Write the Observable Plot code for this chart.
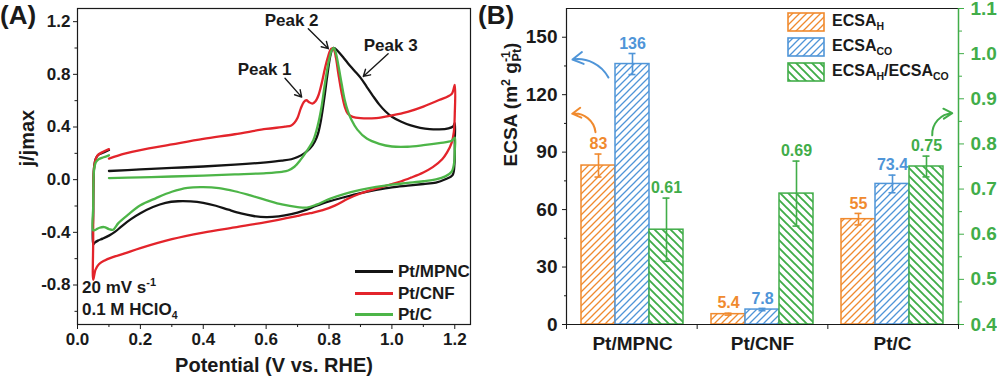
<!DOCTYPE html>
<html><head><meta charset="utf-8">
<script src="https://cdn.jsdelivr.net/npm/d3@7"></script>
<script src="https://cdn.jsdelivr.net/npm/@observablehq/plot@0.6"></script>
<style>
body{margin:0;background:#fff;}
#wrap{position:relative;width:997px;height:376px;overflow:hidden;font-family:"Liberation Sans",Arial,sans-serif;font-weight:bold;color:#1a1a1a;}
.abs{position:absolute;white-space:nowrap;}
#wrap sub{font-size:10.5px;vertical-align:-4px;line-height:0;}
#wrap sup{font-size:11px;vertical-align:7px;line-height:0;}
</style></head><body>
<svg width="0" height="0" style="position:absolute">
<defs>
<pattern id="hatchH" patternUnits="userSpaceOnUse" width="7" height="7"><rect width="7" height="7" fill="#fff"/><path d="M-1,1 L1,-1 M0,7 L7,0 M6,8 L8,6" stroke="#F08A2E" stroke-width="1.3"/></pattern>
<pattern id="hatchCO" patternUnits="userSpaceOnUse" width="7" height="7"><rect width="7" height="7" fill="#fff"/><path d="M-1,1 L1,-1 M0,7 L7,0 M6,8 L8,6" stroke="#4F95D8" stroke-width="1.3"/></pattern>
<pattern id="hatchR" patternUnits="userSpaceOnUse" width="8" height="8"><rect width="8" height="8" fill="#fff"/><path d="M0,0 L8,8 M-1,7 L1,9 M7,-1 L9,1" stroke="#41AD49" stroke-width="1.9"/></pattern>
</defs></svg>
<div id="wrap"></div>
<script>
const FONT = '"Liberation Sans", Arial, sans-serif';
const INK = "#1a1a1a";
const C_BLACK = "#141414", C_RED = "#E3242B", C_GREEN = "#4DB548";
const C_OR = "#F08A2E", C_BL = "#4F95D8", C_GR = "#41AD49";

// ---------- Panel A data (potential V vs RHE, normalized current j/jmax) ----------
const cvSeries = ["Pt/MPNC", "Pt/CNF", "Pt/C"];
const cvMPNC = [
  [0.10,0.066],[0.20,0.078],[0.30,0.089],[0.40,0.100],[0.50,0.114],[0.60,0.132],[0.65,0.144],[0.68,0.155],[0.70,0.172],[0.72,0.198],[0.74,0.238],[0.755,0.29],[0.765,0.35],[0.775,0.46],[0.785,0.62],[0.795,0.80],[0.805,0.95],[0.813,1.0],[0.82,0.995],[0.83,0.972],[0.845,0.93],[0.86,0.885],[0.88,0.83],[0.90,0.775],[0.92,0.705],[0.94,0.635],[0.96,0.57],[0.98,0.518],[1.00,0.478],[1.03,0.44],[1.06,0.412],[1.09,0.394],[1.12,0.384],[1.15,0.382],[1.18,0.39],[1.195,0.405],[1.2,0.43],
  [1.2,0.3],[1.199,0.12],[1.193,0.035],[1.17,0.003],[1.14,-0.022],[1.10,-0.033],[1.05,-0.045],[1.00,-0.058],[0.95,-0.078],[0.90,-0.102],[0.85,-0.132],[0.80,-0.165],[0.76,-0.198],[0.72,-0.235],[0.68,-0.262],[0.64,-0.279],[0.60,-0.285],[0.56,-0.276],[0.52,-0.256],[0.48,-0.228],[0.44,-0.198],[0.40,-0.176],[0.36,-0.165],[0.32,-0.164],[0.28,-0.176],[0.24,-0.208],[0.20,-0.255],[0.17,-0.30],[0.14,-0.355],[0.12,-0.395],[0.10,-0.425],[0.08,-0.448],[0.065,-0.463],[0.055,-0.478],[0.05,-0.49],
  [0.05,-0.25],[0.051,0.0],[0.053,0.1],[0.058,0.16],[0.067,0.19],[0.083,0.207],[0.10,0.225]
];
const cvCNF = [
  [0.10,0.16],[0.15,0.197],[0.20,0.225],[0.30,0.268],[0.40,0.31],[0.50,0.345],[0.60,0.385],[0.66,0.402],[0.68,0.412],[0.69,0.432],[0.70,0.47],[0.71,0.54],[0.72,0.59],[0.728,0.603],[0.737,0.588],[0.747,0.578],[0.757,0.595],[0.767,0.645],[0.777,0.735],[0.787,0.845],[0.797,0.935],[0.807,0.995],[0.815,0.99],[0.822,0.925],[0.83,0.80],[0.84,0.66],[0.85,0.555],[0.86,0.50],[0.875,0.477],[0.90,0.467],[0.95,0.468],[1.00,0.488],[1.05,0.515],[1.10,0.555],[1.15,0.605],[1.19,0.65],[1.2,0.72],
  [1.2,0.5],[1.197,0.36],[1.19,0.28],[1.175,0.205],[1.16,0.155],[1.13,0.095],[1.10,0.055],[1.06,0.015],[1.03,-0.012],[1.00,-0.033],[0.95,-0.068],[0.90,-0.105],[0.86,-0.145],[0.82,-0.195],[0.78,-0.232],[0.74,-0.255],[0.70,-0.275],[0.60,-0.322],[0.50,-0.362],[0.40,-0.402],[0.30,-0.452],[0.20,-0.52],[0.15,-0.56],[0.11,-0.59],[0.085,-0.615],[0.068,-0.642],[0.057,-0.685],[0.05,-0.76],
  [0.05,-0.45],[0.05,-0.1],[0.052,0.07],[0.056,0.14],[0.064,0.185],[0.08,0.21],[0.10,0.232]
];
const cvPC = [
  [0.10,0.012],[0.20,0.018],[0.30,0.024],[0.40,0.031],[0.50,0.04],[0.60,0.05],[0.65,0.06],[0.67,0.07],[0.69,0.098],[0.71,0.152],[0.73,0.22],[0.75,0.30],[0.765,0.42],[0.776,0.55],[0.787,0.73],[0.80,0.91],[0.809,0.985],[0.815,1.0],[0.822,0.96],[0.83,0.865],[0.84,0.73],[0.85,0.605],[0.86,0.52],[0.87,0.46],[0.89,0.38],[0.92,0.312],[0.96,0.272],[1.00,0.252],[1.05,0.25],[1.10,0.262],[1.15,0.278],[1.19,0.295],[1.2,0.32],
  [1.2,0.22],[1.198,0.13],[1.19,0.06],[1.17,0.025],[1.14,0.002],[1.10,-0.012],[1.05,-0.025],[1.00,-0.038],[0.95,-0.055],[0.90,-0.078],[0.85,-0.108],[0.80,-0.148],[0.76,-0.19],[0.73,-0.212],[0.70,-0.208],[0.65,-0.188],[0.60,-0.155],[0.55,-0.12],[0.50,-0.088],[0.45,-0.065],[0.40,-0.057],[0.35,-0.062],[0.30,-0.092],[0.25,-0.14],[0.20,-0.195],[0.16,-0.268],[0.13,-0.33],[0.113,-0.38],[0.10,-0.375],[0.085,-0.36],[0.07,-0.365],[0.058,-0.38],[0.05,-0.385],
  [0.05,-0.2],[0.051,0.0],[0.053,0.08],[0.058,0.13],[0.067,0.155],[0.083,0.17],[0.10,0.185]
];
const xTicksA = [0, 0.2, 0.4, 0.6, 0.8, 1.0, 1.2];
const xMinorA = [0.1, 0.3, 0.5, 0.7, 0.9, 1.1];
const yTicksA = [-0.8, -0.4, 0, 0.4, 0.8, 1.2];
const yMinorA = [-1.0, -0.6, -0.2, 0.2, 0.6, 1.0];
const xTitleA = "Potential (V vs. RHE)";
const yTitleA = "j/jmax";
const peakNames = ["Peak 1", "Peak 2", "Peak 3"];
const peakTextV = [0.595, 0.681, 0.996];
const peakTextJ = [0.834, 1.21, 1.018];
const peakArrowV1 = [0.660, 0.734, 0.988], peakArrowJ1 = [0.77, 1.147, 0.957];
const peakArrowV2 = [0.713, 0.798, 0.909], peakArrowJ2 = [0.627, 0.995, 0.784];
const conditionLines = ["20 mV s<sup>-1</sup>", "0.1 M HClO<sub>4</sub>"];

// ---------- Panel B data ----------
const catalysts = ["Pt/MPNC", "Pt/CNF", "Pt/C"];
const ecsaH = [83, 5.4, 55], ecsaHErr = [6, 0.5, 3], ecsaHText = ["83", "5.4", "55"];
const ecsaCO = [136, 7.8, 73.4], ecsaCOErr = [5.5, 0.6, 4.6], ecsaCOText = ["136", "7.8", "73.4"];
const ratio = [0.61, 0.69, 0.75], ratioErr = [0.07, 0.072, 0.023], ratioText = ["0.61", "0.69", "0.75"];
const leftTicksB = [0, 30, 60, 90, 120, 150], leftMinorB = [15, 45, 75, 105, 135];
const rightTicksB = [0.4, 0.5, 0.6, 0.7, 0.8, 0.9, 1.0, 1.1], rightMinorB = [0.45, 0.55, 0.65, 0.75, 0.85, 0.95, 1.05];
const yTitleB = "ECSA (m2 gPt-1)";
const legendBLabels = ["ECSA<sub>H</sub>", "ECSA<sub>CO</sub>", "ECSA<sub>H</sub>/ECSA<sub>CO</sub>"];
// annotation arrows (x in catalyst-slot units 0..3, y in ratio units)
const arrowsB = [
  {x1: 0.321, y1: 0.947, x2: 0.046, y2: 0.987},
  {x1: 0.222, y1: 0.826, x2: 0.044, y2: 0.867},
  {x1: 2.799, y1: 0.819, x2: 2.952, y2: 0.868}
];

const wrap = document.getElementById("wrap");
const rows = arr => arr.map(([v, j]) => ({v, j}));

// ---------- Panel A ----------
const peakText = peakNames.map((t, i) => ({t, v: peakTextV[i], j: peakTextJ[i]}));
const peakArrows = peakNames.map((t, i) => ({x1: peakArrowV1[i], y1: peakArrowJ1[i], x2: peakArrowV2[i], y2: peakArrowJ2[i]}));
const pa = Plot.plot({
  width: 480, height: 376,
  marginLeft: 77, marginRight: 10, marginTop: 8, marginBottom: 52,
  style: {fontFamily: FONT, fontSize: "17px", fontWeight: "bold", color: INK, background: "transparent", overflow: "visible"},
  x: {domain: [0, 1.25]},
  y: {domain: [-1.1, 1.3]},
  marks: [
    Plot.axisX({ticks: xTicksA, tickFormat: d => d.toFixed(1), tickSize: 5, tickPadding: 3, label: null}),
    Plot.axisX({ticks: xMinorA, tickFormat: () => "", tickSize: 3, label: null}),
    Plot.axisY({ticks: yTicksA, tickFormat: d => d.toFixed(1), tickSize: 4, tickPadding: 3, label: null}),
    Plot.axisY({ticks: yMinorA, tickFormat: () => "", tickSize: 2.5, label: null}),
    Plot.line(rows(cvMPNC), {x: "v", y: "j", stroke: C_BLACK, strokeWidth: 2.3, curve: "catmull-rom"}),
    Plot.line(rows(cvCNF), {x: "v", y: "j", stroke: C_RED, strokeWidth: 2.3, curve: "catmull-rom"}),
    Plot.line(rows(cvPC), {x: "v", y: "j", stroke: C_GREEN, strokeWidth: 2.3, curve: "catmull-rom"}),
    Plot.frame({stroke: INK, strokeWidth: 1.2}),
    Plot.arrow(peakArrows, {x1: "x1", y1: "y1", x2: "x2", y2: "y2", stroke: INK, strokeWidth: 1.4, headLength: 8}),
    Plot.text(peakText, {x: "v", y: "j", text: "t", fontSize: 17}),
    Plot.text([xTitleA], {frameAnchor: "bottom", dy: 41, fontSize: 20, lineAnchor: "middle"}),
    Plot.text([yTitleA], {frameAnchor: "left", dx: -50, rotate: -90, fontSize: 20, lineAnchor: "middle"})
  ]
});
pa.style.position = "absolute"; pa.style.left = "0px"; pa.style.top = "0px";
wrap.appendChild(pa);

// ---------- Panel B ----------
const toLeft = d3.scaleLinear().domain([0.4, 1.1]).range([0, 165]);
const seriesKeys = ["H", "CO", "R"];
const seriesStyle = {
  H: {fill: "url(#hatchH)", color: C_OR},
  CO: {fill: "url(#hatchCO)", color: C_BL},
  R: {fill: "url(#hatchR)", color: C_GR}
};
const barRows = [];
catalysts.forEach((c, i) => {
  barRows.push({cat: c, s: "H", top: ecsaH[i], lo: ecsaH[i] - ecsaHErr[i], hi: ecsaH[i] + ecsaHErr[i], label: ecsaHText[i]});
  barRows.push({cat: c, s: "CO", top: ecsaCO[i], lo: ecsaCO[i] - ecsaCOErr[i], hi: ecsaCO[i] + ecsaCOErr[i], label: ecsaCOText[i]});
  barRows.push({cat: c, s: "R", top: toLeft(ratio[i]), lo: toLeft(ratio[i] - ratioErr[i]), hi: toLeft(ratio[i] + ratioErr[i]), label: ratioText[i]});
});
const barMarks = seriesKeys.flatMap(k => {
  const st = seriesStyle[k];
  const data = barRows.filter(d => d.s === k);
  return [
    Plot.barY(data, {fx: "cat", x: "s", y: "top", fill: st.fill, stroke: st.color, strokeWidth: 1.5}),
    Plot.ruleX(data, {fx: "cat", x: "s", y1: "lo", y2: "hi", stroke: st.color, strokeWidth: 1.6}),
    Plot.tickY(data, {fx: "cat", x: "s", y: "hi", stroke: st.color, strokeWidth: 1.6, insetLeft: 13.5, insetRight: 13.5}),
    Plot.tickY(data, {fx: "cat", x: "s", y: "lo", stroke: st.color, strokeWidth: 1.6, insetLeft: 13.5, insetRight: 13.5}),
    Plot.text(data, {fx: "cat", x: "s", y: "hi", text: "label", dy: -10, fill: st.color, fontSize: 16})
  ];
});
const pb = Plot.plot({
  width: 517, height: 376,
  marginLeft: 86, marginRight: 39, marginTop: 8, marginBottom: 52,
  style: {fontFamily: FONT, fontSize: "19px", fontWeight: "bold", color: INK, background: "transparent", overflow: "visible"},
  fx: {domain: catalysts, padding: 0, label: null},
  x: {domain: seriesKeys, paddingInner: 0, paddingOuter: 0.4, axis: null},
  y: {domain: [0, 165]},
  marks: [
    Plot.axisFx({anchor: "bottom", tickSize: 0, tickPadding: 12, label: null}),
    Plot.axisY({ticks: leftTicksB, tickSize: 5, tickPadding: 5, label: null}),
    Plot.axisY({ticks: leftMinorB, tickFormat: () => "", tickSize: 3, label: null}),
    ...barMarks
  ]
});
pb.style.position = "absolute"; pb.style.left = "480px"; pb.style.top = "0px";
wrap.appendChild(pb);

const arrowBColors = [C_BL, C_OR, C_GR];
const arrowBBends = [-35, -45, 45];
const pbo = Plot.plot({
  width: 517, height: 376,
  marginLeft: 86, marginRight: 39, marginTop: 8, marginBottom: 52,
  style: {fontFamily: FONT, fontSize: "19px", fontWeight: "bold", color: INK, background: "transparent", overflow: "visible"},
  x: {domain: [0, 3]},
  y: {domain: [0.4, 1.1]},
  marks: [
    Plot.ruleY([1.1], {stroke: INK, strokeWidth: 1.2}),
    Plot.ruleY([0.4], {stroke: INK, strokeWidth: 1.2}),
    Plot.ruleX([0], {stroke: INK, strokeWidth: 1.2}),
    Plot.ruleX([3], {stroke: C_GR, strokeWidth: 1.5}),
    Plot.axisX({ticks: [0, 1, 2, 3], tickFormat: () => "", tickSize: 5, label: null}),
    Plot.axisY({anchor: "right", ticks: rightTicksB, tickFormat: d => d.toFixed(1), tickSize: 5, tickPadding: 7, color: C_GR, stroke: C_GR, fill: C_GR, label: null}),
    Plot.axisY({anchor: "right", ticks: rightMinorB, tickFormat: () => "", tickSize: 3, color: C_GR, stroke: C_GR, label: null}),
    ...arrowsB.map((a, i) => Plot.arrow([a], {x1: "x1", y1: "y1", x2: "x2", y2: "y2", bend: arrowBBends[i], stroke: arrowBColors[i], strokeWidth: 2, headLength: 9})),
    Plot.text([yTitleB], {frameAnchor: "left", dx: -56, rotate: -90, fontSize: 19, lineAnchor: "middle"})
  ]
});
pbo.style.position = "absolute"; pbo.style.left = "480px"; pbo.style.top = "0px"; pbo.style.pointerEvents = "none";
wrap.appendChild(pbo);

// sub/superscripts for the ECSA axis title
(function () {
  const ns = "http://www.w3.org/2000/svg";
  const el = [...pbo.querySelectorAll("text")].find(t => t.textContent === yTitleB);
  if (!el) return;
  while (el.firstChild) el.removeChild(el.firstChild);
  const parts = [
    {t: "ECSA (m"}, {t: "2", sup: true}, {t: " g"}, {t: "-1", sup: true}, {t: "Pt", sub: true, dx: -10.5}, {t: ")"}
  ];
  for (const p of parts) {
    const s = document.createElementNS(ns, "tspan");
    s.textContent = p.t;
    if (p.sup) { s.setAttribute("font-size", "12.5"); s.setAttribute("baseline-shift", "7"); }
    if (p.sub) { s.setAttribute("font-size", "12.5"); s.setAttribute("baseline-shift", "-4"); }
    if (p.dx) s.setAttribute("dx", p.dx);
    el.appendChild(s);
  }
})();

// ---------- HTML legends / labels ----------
function addDiv(html, style) {
  const d = document.createElement("div");
  d.className = "abs";
  d.innerHTML = html;
  Object.assign(d.style, style);
  wrap.appendChild(d);
  return d;
}
addDiv("(A)", {left: "0px", top: "2px", fontSize: "26px", lineHeight: "26px"});
addDiv("(B)", {left: "478px", top: "2px", fontSize: "26px", lineHeight: "26px"});
addDiv(conditionLines.join("<br>"), {left: "82px", top: "277px", fontSize: "17px", lineHeight: "22px"});

const cvColors = [C_BLACK, C_RED, C_GREEN];
cvSeries.forEach((name, i) => {
  addDiv(`<span style="display:inline-block;width:38px;height:3px;background:${cvColors[i]};vertical-align:middle;margin-right:5px;position:relative;top:-1px"></span>${name}`,
    {left: "355px", top: (261 + i * 21.5) + "px", fontSize: "17px", lineHeight: "22px"});
});
const swFill = ["url(#hatchH)", "url(#hatchCO)", "url(#hatchR)"];
const swStroke = [C_OR, C_BL, C_GR];
legendBLabels.forEach((lab, i) => {
  addDiv(`<svg width="38" height="20" style="vertical-align:middle;margin-right:7px"><rect x="1" y="1" width="36" height="18" fill="${swFill[i]}" stroke="${swStroke[i]}" stroke-width="1.6"/></svg>${lab}`,
    {left: "787px", top: (9 + i * 25) + "px", fontSize: "16px", lineHeight: "24px"});
});
</script>
</body></html>
